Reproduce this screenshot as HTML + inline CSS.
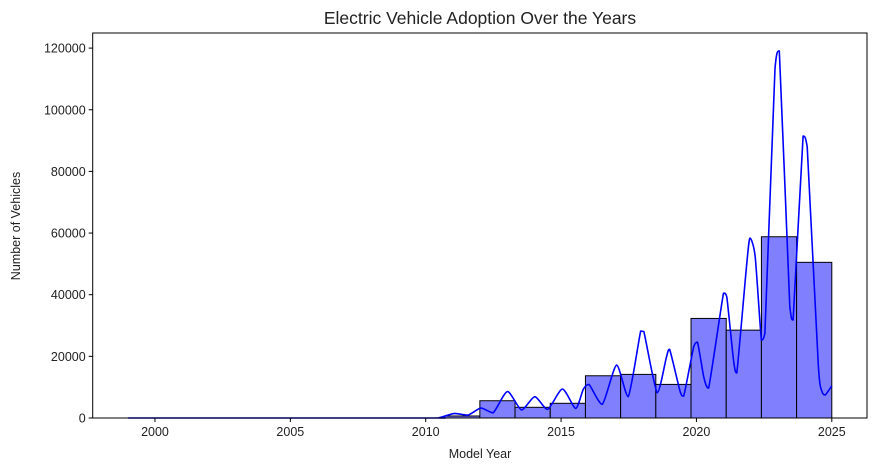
<!DOCTYPE html>
<html><head><meta charset="utf-8">
<style>
html,body{margin:0;padding:0;background:#fff;}
svg text{font-family:"Liberation Sans","DejaVu Sans",sans-serif;fill:#222;}
</style></head>
<body>
<svg id="chart" width="877" height="471" viewBox="0 0 877 471" xmlns="http://www.w3.org/2000/svg">
<text x="480" y="24" text-anchor="middle" font-size="17.5">Electric Vehicle Adoption Over the Years</text>
<g id="bars"></g>
<g id="kde"></g>
<g id="axes"></g>
<text x="480" y="458" text-anchor="middle" font-size="12.5">Model Year</text>
<text transform="translate(20,226) rotate(-90)" text-anchor="middle" font-size="12.5">Number of Vehicles</text>
</svg>
<script>
const binStart = 1999;
const binWidth = 1.3;
const binCounts = [0,0,0,0,0,0,0,0,0,650,5600,3470,4770,13700,14150,10900,32300,28500,58800,50500];
const kdeYears = [1999,2010.0,2010.5,2011.06,2011.55,2012.04,2012.49,2013.02,2013.54,2014.03,2014.5,2015.05,2015.54,2015.82,2016.03,2016.52,2017.05,2017.48,2017.94,2018.06,2018.55,2018.89,2019.01,2019.4,2019.53,2019.9,2020.04,2020.27,2020.45,2021.0,2021.12,2021.37,2021.49,2021.86,2021.98,2022.17,2022.4,2022.53,2022.9,2023.06,2023.45,2023.57,2023.94,2024.09,2024.5,2024.64,2024.76,2025];
const kdeValues = [0,0,100,1500,900,3200,1700,8600,2600,6900,2800,9400,3100,9300,10900,4400,17200,6900,28200,28000,8200,19700,22300,8500,7100,23100,24600,13400,9700,40500,39300,18800,14600,50200,58400,52300,25300,27500,113400,119100,36100,31800,91500,88000,17200,8500,7500,10400];
const xTicks = [2000,2005,2010,2015,2020,2025];
const yTicks = [0,20000,40000,60000,80000,100000,120000];

const X0=92.7, X1=867, XMIN=1997.7, XMAX=2026.3;
const Y0=418, Y1=33, YMAX=124900;
const xs = v => X0 + (v-XMIN)/(XMAX-XMIN)*(X1-X0);
const ys = v => Y0 - v/YMAX*(Y0-Y1);
const NS="http://www.w3.org/2000/svg";
function mk(tag, attrs, parent){const e=document.createElementNS(NS,tag);for(const k in attrs)e.setAttribute(k,attrs[k]);parent.appendChild(e);return e;}

const bars=document.getElementById('bars');
binCounts.forEach((c,i)=>{
  const a=binStart+i*binWidth, b=a+binWidth;
  const r=mk('rect',{x:xs(a),y:ys(c),width:xs(b)-xs(a),height:Y0-ys(c),fill:'#8080ff',stroke:'#000','stroke-width':1},bars);
  
  
});

const kde=document.getElementById('kde');
const pts=kdeYears.map((y,i)=>[xs(y),ys(kdeValues[i])]);
let d='M'+pts[0][0].toFixed(1)+','+pts[0][1].toFixed(1);
for(let i=0;i<pts.length-1;i++){
  const p0=pts[Math.max(0,i-1)],p1=pts[i],p2=pts[i+1],p3=pts[Math.min(pts.length-1,i+2)];
  const t=0.35/3;
  const lo=Math.min(p1[1],p2[1]), hi=Math.max(p1[1],p2[1]);
  let c1y=p1[1]+(p2[1]-p0[1])*t, c2y=p2[1]-(p3[1]-p1[1])*t;
  c1y=Math.max(lo,Math.min(hi,c1y)); c2y=Math.max(lo,Math.min(hi,c2y));
  d+='C'+(p1[0]+(p2[0]-p0[0])*t).toFixed(1)+','+c1y.toFixed(1)+' '+(p2[0]-(p3[0]-p1[0])*t).toFixed(1)+','+c2y.toFixed(1)+' '+p2[0].toFixed(1)+','+p2[1].toFixed(1);
}
const p=mk('path',{d:d,fill:'none',stroke:'#0000ff','stroke-width':1.6,'stroke-linejoin':'round'},kde);



const ax=document.getElementById('axes');
const frame=mk('rect',{x:X0,y:Y1,width:X1-X0,height:Y0-Y1,fill:'none',stroke:'#000','stroke-width':1},ax);


xTicks.forEach(t=>{
  mk('line',{x1:xs(t),x2:xs(t),y1:Y0,y2:Y0+4,stroke:'#000'},ax);
  const tx=mk('text',{x:xs(t),y:Y0+18,'text-anchor':'middle','font-size':12.5},ax);
  tx.textContent=t;
  
  
});
yTicks.forEach(t=>{
  mk('line',{x1:X0-4,x2:X0,y1:ys(t),y2:ys(t),stroke:'#000'},ax);
  const tx=mk('text',{x:X0-7,y:ys(t)+4.5,'text-anchor':'end','font-size':12.5},ax);
  tx.textContent=t;
  
  
});
</script>
</body></html>
